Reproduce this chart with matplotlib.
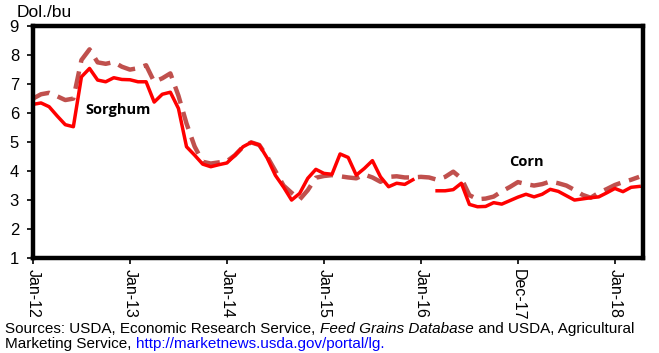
import numpy as np
import matplotlib.pyplot as plt

# monthly prices, Jan-12 onwards (dollars per bushel)
sorghum = [6.30, 6.35, 6.22, 5.90, 5.60, 5.53, 7.25, 7.54, 7.14, 7.08,
           7.22, 7.16, 7.15, 7.08, 7.08, 6.38, 6.65, 6.72, 6.16, 4.84,
           4.55, 4.24, 4.15, 4.22, 4.28, 4.55, 4.84, 4.99, 4.90, 4.44,
           3.85, 3.45, 3.00, 3.23, 3.75, 4.06, 3.92, 3.89, 4.59, 4.47,
           3.86, 4.09, 4.36, 3.80, 3.46, 3.58, 3.54, 3.70, np.nan, np.nan,
           3.32, 3.32, 3.36, 3.58, 2.85, 2.77, 2.78, 2.91, 2.86, 2.98,
           3.10, 3.20, 3.11, 3.20, 3.37, 3.30, 3.15, 3.00, 3.04, 3.08,
           3.11, 3.25, 3.40, 3.29, 3.44, 3.47]
corn = [6.50, 6.65, 6.70, 6.58, 6.45, 6.50, 7.83, 8.20, 7.75, 7.70,
        7.76, 7.60, 7.50, 7.55, 7.65, 7.08, 7.20, 7.37, 6.60, 5.64,
        4.85, 4.32, 4.26, 4.30, 4.34, 4.55, 4.84, 4.99, 4.90, 4.49,
        4.00, 3.50, 3.25, 3.02, 3.34, 3.77, 3.83, 3.86, 3.82, 3.78,
        3.75, 3.88, 3.78, 3.63, 3.80, 3.82, 3.78, 3.78, 3.80, 3.78,
        3.70, 3.80, 3.98, 3.75, 3.17, 3.03, 3.05, 3.12, 3.30, 3.45,
        3.62, 3.55, 3.50, 3.55, 3.64, 3.58, 3.50, 3.35, 3.18, 3.08,
        3.25, 3.38, 3.52, 3.62, 3.70, 3.80]
tick_labels = ["Jan-12", "Jan-13", "Jan-14", "Jan-15", "Jan-16", "Dec-17", "Jan-18"]

plt.rcParams['font.family'] = ['Liberation Sans', 'DejaVu Sans']

fig = plt.figure(figsize=(6.59, 3.53), dpi=100)
ax = fig.add_axes([0.050, 0.269, 0.926, 0.657])

x = np.arange(len(sorghum))
ax.plot(x, corn, color="#C0504D", lw=3.2, dashes=(4, 2), solid_capstyle="butt")
ax.plot(x, sorghum, color="#FF0000", lw=2.5)

ax.set_xlim(0, 75.5)
ax.set_ylim(1, 9)
ax.set_yticks(range(1, 10))
ax.set_xticks(np.arange(0, 73, 12))
ax.set_xticklabels(tick_labels, rotation=270, fontsize=11.5)
ax.tick_params(axis="y", labelsize=12, length=4, width=1.2, pad=6)
ax.tick_params(axis="x", length=4, width=1.2, pad=4)
for s in ax.spines.values():
    s.set_linewidth(3.2)

ax.text(10.5, 6.1, "Sorghum", fontsize=10.5, fontweight="bold",
        family=["Open Sans", "DejaVu Sans"], ha="center", va="center")
ax.text(61, 4.3, "Corn", fontsize=10.5, fontweight="bold",
        family=["Open Sans", "DejaVu Sans"], ha="center", va="center")

fig.text(0.025, 0.985, "Dol./bu", fontsize=12.5, va="top")

# source note, built piece by piece so the italic and link parts line up
fs = 11
y1, y2 = 0.068, 0.025
fig.canvas.draw()
r = fig.canvas.get_renderer()
t1 = fig.text(0.008, y1, "Sources: USDA, Economic Research Service, ", fontsize=fs, va="center")
bb = t1.get_window_extent(r)
t2 = fig.text(bb.x1 / fig.bbox.width, y1, "Feed Grains Database", fontsize=fs,
              va="center", style="italic")
bb2 = t2.get_window_extent(r)
fig.text(bb2.x1 / fig.bbox.width, y1, " and USDA, Agricultural", fontsize=fs, va="center")
t3 = fig.text(0.008, y2, "Marketing Service, ", fontsize=fs, va="center")
bb3 = t3.get_window_extent(r)
fig.text(bb3.x1 / fig.bbox.width, y2, "http://marketnews.usda.gov/portal/lg.",
         fontsize=fs, va="center", color="#0000FF")

fig.savefig("out.png", dpi=100)
